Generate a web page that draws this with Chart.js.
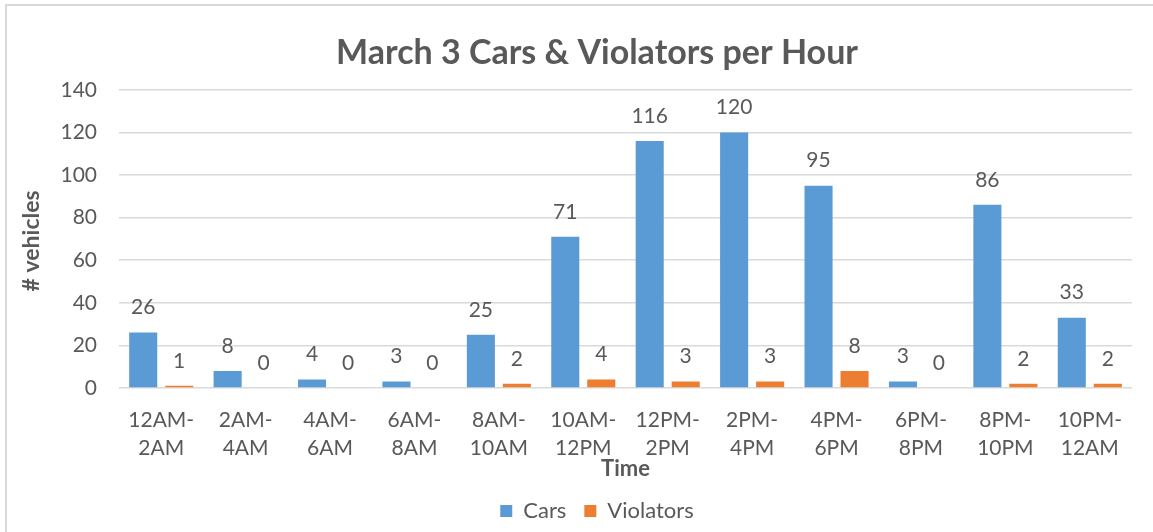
<!DOCTYPE html>
<html>
<head>
<meta charset="utf-8">
<script src="https://cdn.jsdelivr.net/npm/chart.js@4/dist/chart.umd.min.js"></script>
<style>
  html, body { margin: 0; padding: 0; background: #ffffff; overflow: hidden; }
  #wrap { position: relative; width: 1153px; height: 532px; }
  #frame { position: absolute; left: 5px; top: 4px; width: 1200px; height: 600px; border: 2px solid #d9d9d9; }
  #chart { position: absolute; left: 0; top: 0; }
</style>
</head>
<body>
<div id="wrap">
  <div id="frame"></div>
  <canvas id="chart" width="1153" height="532"></canvas>
</div>
<script>
// time slots (two-line labels)
var categories = [
    ["12AM-", "2AM"], ["2AM-", "4AM"], ["4AM-", "6AM"], ["6AM-", "8AM"],
    ["8AM-", "10AM"], ["10AM-", "12PM"], ["12PM-", "2PM"], ["2PM-", "4PM"],
    ["4PM-", "6PM"], ["6PM-", "8PM"], ["8PM-", "10PM"], ["10PM-", "12AM"]
];
var cars = [26, 8, 4, 3, 25, 71, 116, 120, 95, 3, 86, 33];
var violators = [1, 0, 0, 0, 2, 4, 3, 3, 8, 0, 2, 2];
var yTicks = [0, 20, 40, 60, 80, 100, 120, 140];

var textColor = '#595959';
var fontFamily = 'Lato, "Open Sans", sans-serif';

/**
 * Value labels above each bar + the rotated y axis title
 */
var valueLabels = {
    id: 'valueLabels',
    afterDatasetsDraw: function(chart) {
        var ctx = chart.ctx;
        ctx.save();
        ctx.font = '21px ' + fontFamily;
        ctx.fillStyle = textColor;
        ctx.textAlign = 'center';
        ctx.textBaseline = 'middle';
        chart.data.datasets.forEach(function(ds, i) {
            var meta = chart.getDatasetMeta(i);
            meta.data.forEach(function(bar, j) {
                ctx.fillText(String(ds.data[j]), bar.x, bar.y - 25);
            });
        });

        // y axis title
        var area = chart.chartArea;
        ctx.translate(32, (area.top + area.bottom) / 2 + 2);
        ctx.rotate(-Math.PI / 2);
        ctx.font = 'bold 23px ' + fontFamily;
        ctx.fillText("# vehicles", 0, 0);
        ctx.restore();
    }
};

var barData = {
    labels: categories,
    datasets: [
        {
            label: "Cars",
            backgroundColor: "#5b9bd5",
            data: cars
        },
        {
            label: "Violators",
            backgroundColor: "#ed7d31",
            data: violators
        }
    ]
};

var barOptions = {
    responsive: false,
    animation: false,
    layout: {
        padding: {left: 41, right: 0, top: 0, bottom: 0}
    },
    datasets: {
        bar: {categoryPercentage: 0.853, barPercentage: 0.78}
    },
    plugins: {
        title: {
            display: true,
            text: "March 3 Cars & Violators per Hour",
            color: textColor,
            font: {family: fontFamily, size: 34, weight: 'bold'},
            padding: {top: 33, bottom: 16}
        },
        legend: {
            position: 'bottom',
            labels: {
                color: textColor,
                font: {family: fontFamily, size: 22},
                boxWidth: 12,
                boxHeight: 12,
                padding: 18
            }
        },
        tooltip: {enabled: false}
    },
    scales: {
        x: {
            grid: {display: false},
            border: {display: false},
            ticks: {
                color: textColor,
                font: {family: fontFamily, size: 21, lineHeight: 1.33},
                padding: 10,
                maxRotation: 0,
                autoSkip: false
            },
            title: {
                display: true,
                text: "Time",
                color: textColor,
                font: {family: fontFamily, size: 22, weight: 'bold'},
                padding: {top: 0, bottom: 0}
            },
            afterFit: function(scale) { scale.height = 94; }
        },
        y: {
            min: 0,
            max: 140,
            afterBuildTicks: function(scale) {
                scale.ticks = yTicks.map(function(v) { return {value: v}; });
            },
            grid: {color: '#d9d9d9', lineWidth: 1.5, drawTicks: false},
            border: {display: false},
            ticks: {
                color: textColor,
                font: {family: fontFamily, size: 21},
                padding: 22
            },
            afterFit: function(scale) { scale.width = 78; }
        },
        // empty right-hand spacer so the plot ends where the reference does
        yRight: {
            position: 'right',
            grid: {display: false},
            border: {display: false},
            ticks: {display: false},
            afterFit: function(scale) { scale.width = 21; }
        }
    }
};

var ctx = document.getElementById("chart").getContext("2d");
new Chart(ctx, {type: 'bar', data: barData, options: barOptions, plugins: [valueLabels]});
</script>
</body>
</html>
